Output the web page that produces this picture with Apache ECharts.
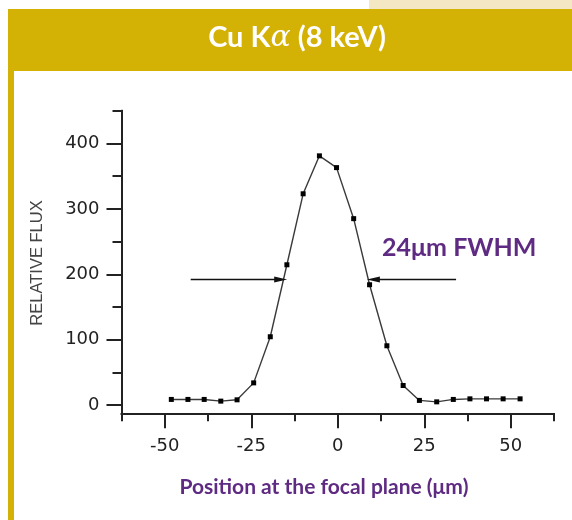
<!DOCTYPE html>
<html>
<head>
<meta charset="utf-8">
<script src="https://cdn.jsdelivr.net/npm/echarts@6/dist/echarts.min.js"></script>
<style>html,body{margin:0;padding:0;background:#fff}#c{width:572px;height:520px}</style>
</head>
<body>
<div id="c"></div>
<script>
// Data
const positions = [-48.1, -43.3, -38.6, -33.8, -29.1, -24.3, -19.5, -14.7, -10.0, -5.3, -0.35, 4.6, 9.2, 14.2, 18.9, 23.6, 28.6, 33.4, 38.2, 43.0, 47.8, 52.7];
const flux = [8.7, 8.7, 8.7, 6.1, 8.1, 34, 104.5, 214.5, 323, 381, 363, 285, 184, 90.7, 30, 7.2, 5, 8.7, 9.6, 9.6, 9.6, 9.6];
const xMajorTicks = [-50, -25, 0, 25, 50];
const xMinorTicks = [-62.5, -37.5, -12.5, 12.5, 37.5, 62.5];
const yMajorTicks = [0, 100, 200, 300, 400];
const yMinorTicks = [50, 150, 250, 350, 450];
const leftArrow = [[-42.5, 192], [-16.5, 192]];
const rightArrow = [[34.2, 192], [10.3, 192]];
const titleText = 'Cu K';
const titleGreek = 'α';
const titleTail = ' (8 keV)';
const yName = 'RELATIVE FLUX';
const xName = 'Position at the focal plane (μm)';
const fwhmText = '24μm FWHM';

const X_MIN = -62.5, X_MAX = 62.5, Y_MIN = -12.5, Y_MAX = 450;
const gridBox = {left: 121.5, right: 18, top: 110.7, bottom: 106.7};
const axisColor = '#222';
const purple = '#5E2A82';
const gold = '#D4B105';
const tickFont = {fontSize: 18, color: '#222', fontFamily: 'DejaVu Sans'};

const chart = echarts.init(document.getElementById('c'), null, {renderer: 'canvas'});

function xAxisDef(grid, ticks, len, labels) {
  return {
    type: 'value', gridIndex: grid, min: X_MIN, max: X_MAX, position: 'bottom',
    axisLine: {show: true, onZero: false, lineStyle: {color: axisColor, width: 2}},
    axisTick: {show: true, customValues: ticks, length: len, lineStyle: {color: axisColor, width: 2}},
    axisLabel: labels ? Object.assign({show: true, customValues: ticks, margin: 24}, tickFont) : {show: false},
    splitLine: {show: false}
  };
}
function yAxisDef(grid, ticks, len, labels) {
  return {
    type: 'value', gridIndex: grid, min: Y_MIN, max: Y_MAX, position: 'left',
    axisLine: {show: true, onZero: false, lineStyle: {color: axisColor, width: 2}},
    axisTick: {show: true, customValues: ticks, length: len, lineStyle: {color: axisColor, width: 2}},
    axisLabel: labels ? Object.assign({show: true, customValues: ticks, margin: 22}, tickFont) : {show: false},
    splitLine: {show: false}
  };
}

const arrowLine = (pair) => [{coord: pair[0]}, {coord: pair[1]}];

chart.setOption({
  animation: false,
  backgroundColor: '#fff',
  grid: [
    Object.assign({}, gridBox),
    Object.assign({}, gridBox)
  ],
  xAxis: [xAxisDef(0, xMajorTicks, 15, true), xAxisDef(1, xMinorTicks, 8, false)],
  yAxis: [yAxisDef(0, yMajorTicks, 15, true), yAxisDef(1, yMinorTicks, 9, false)],
  series: [{
    type: 'line',
    xAxisIndex: 0, yAxisIndex: 0,
    data: positions.map((p, i) => [p, flux[i]]),
    symbol: 'rect', symbolSize: 5, showSymbol: true,
    lineStyle: {color: '#3a3a3a', width: 1.4},
    itemStyle: {color: '#000'},
    markLine: {
      silent: true,
      symbol: ['none', 'triangle'],
      symbolSize: [6, 13],
      label: {show: false},
      lineStyle: {color: '#111', width: 1.3, type: 'solid'},
      data: [arrowLine(leftArrow), arrowLine(rightArrow)]
    }
  }],
  graphic: [
    {type: 'rect', shape: {x: 369, y: 0, width: 203, height: 9}, style: {fill: '#F4E8C4'}, silent: true},
    {type: 'rect', shape: {x: 8, y: 9, width: 564, height: 62}, style: {fill: gold}, silent: true},
    {type: 'rect', shape: {x: 8, y: 71, width: 6, height: 449}, style: {fill: gold}, silent: true},
    {type: 'text', x: 297, y: 38, silent: true, style: {
      text: '{a|' + titleText + '}{g|' + titleGreek + '}{a|' + titleTail + '}',
      align: 'center', verticalAlign: 'middle',
      rich: {
        a: {fill: '#fff', fontSize: 29, fontFamily: 'Lato', fontWeight: 'bold'},
        g: {fill: '#fff', fontSize: 30, fontFamily: 'DejaVu Serif', fontStyle: 'italic'}
      }
    }},
    {type: 'text', x: 37, y: 263, rotation: Math.PI / 2, silent: true, style: {
      text: yName, align: 'center', verticalAlign: 'middle', fill: '#444', fontSize: 16.5, fontFamily: 'Liberation Sans'
    }},
    {type: 'text', x: 324, y: 487, silent: true, style: {
      text: xName, align: 'center', verticalAlign: 'middle', fill: purple, fontSize: 21, fontWeight: 'bold', fontFamily: 'Lato'
    }},
    {type: 'text', x: 382, y: 248, silent: true, style: {
      text: fwhmText, align: 'left', verticalAlign: 'middle', fill: purple, fontSize: 25, fontWeight: 'bold', fontFamily: 'Lato'
    }}
  ]
});
</script>
</body>
</html>
